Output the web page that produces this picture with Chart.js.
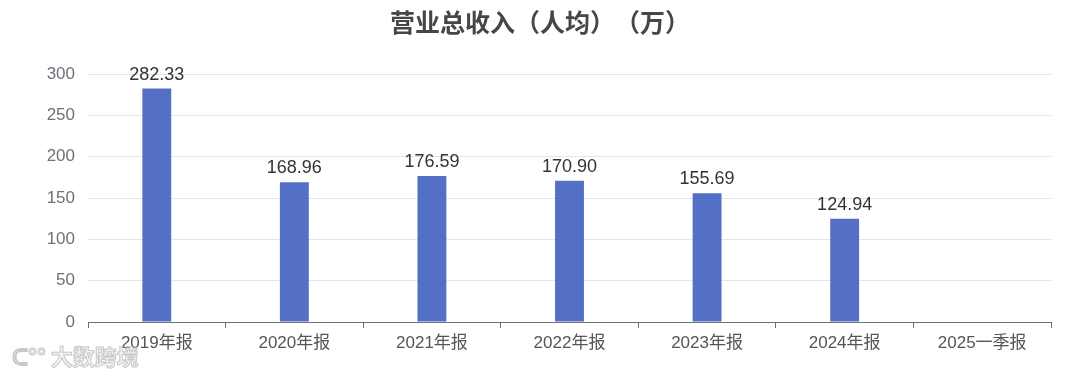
<!DOCTYPE html>
<html>
<head>
<meta charset="utf-8">
<script src="https://cdn.jsdelivr.net/npm/chart.js@4/dist/chart.umd.min.js"></script>
<style>
  html, body { margin: 0; padding: 0; background: #fff; }
  #wrap { position: relative; width: 1080px; height: 379px; }
  #title {
    position: absolute; left: 0; top: 3px; width: 1080px; text-align: center;
    font: bold 25px "Noto Sans CJK SC", sans-serif; color: #464646;
    text-spacing-trim: space-all; font-feature-settings: "halt" 0;
  }
  #mark {
    position: absolute; left: 12px; top: 339px;
    font: bold 22px "Noto Sans CJK SC", sans-serif; color: #f2f2f2;
    -webkit-text-stroke: 1px #c8c8c8;
  }
</style>
</head>
<body>
<div id="wrap">
  <canvas id="chart" width="1080" height="379"></canvas>
  <div id="title">营业总收入（人均）（万）</div>
  <div id="mark">ᑕ°° 大数跨境</div>
</div>
<script>
// 数据
const categories = ['2019年报', '2020年报', '2021年报', '2022年报', '2023年报', '2024年报', '2025一季报'];
const values = [282.33, 168.96, 176.59, 170.90, 155.69, 124.94, null];
const yTicks = [0, 50, 100, 150, 200, 250, 300];

const FONT = '"Liberation Sans", "Noto Sans CJK SC", sans-serif';

// 柱顶数值
const valueLabels = {
  id: 'valueLabels',
  afterDatasetsDraw(chart) {
    const ctx = chart.ctx;
    const meta = chart.getDatasetMeta(0);
    ctx.save();
    ctx.font = '18px ' + FONT;
    ctx.fillStyle = '#333';
    ctx.textAlign = 'center';
    ctx.textBaseline = 'alphabetic';
    meta.data.forEach((bar, i) => {
      if (values[i] == null) return;
      ctx.fillText(values[i].toFixed(2), bar.x, bar.y - 9);
    });
    ctx.restore();
  }
};

new Chart(document.getElementById('chart'), {
  type: 'bar',
  data: {
    labels: categories,
    datasets: [{
      data: values,
      backgroundColor: '#5470c6',
      categoryPercentage: 1,
      barPercentage: 0.21
    }]
  },
  options: {
    responsive: false,
    animation: false,
    layout: { padding: { top: 74, right: 29, left: 0, bottom: 0 } },
    plugins: { legend: { display: false }, tooltip: { enabled: false } },
    scales: {
      x: {
        grid: { display: true, drawOnChartArea: false, offset: true, tickLength: 6, color: '#6e7079' },
        border: { color: '#6e7079', width: 1 },
        ticks: { font: { size: 17, family: FONT }, color: '#555', padding: 5 },
        afterFit(scale) { scale.height = 57; }
      },
      y: {
        min: 0, max: 300,
        afterBuildTicks(scale) { scale.ticks = yTicks.map(v => ({ value: v })); },
        grid: { color: '#e0e6f1', drawTicks: false },
        border: { display: false },
        ticks: { font: { size: 17, family: FONT }, color: '#6e7079', padding: 13 },
        afterFit(scale) { scale.width = 88; }
      }
    }
  },
  plugins: [valueLabels]
});
</script>
</body>
</html>
